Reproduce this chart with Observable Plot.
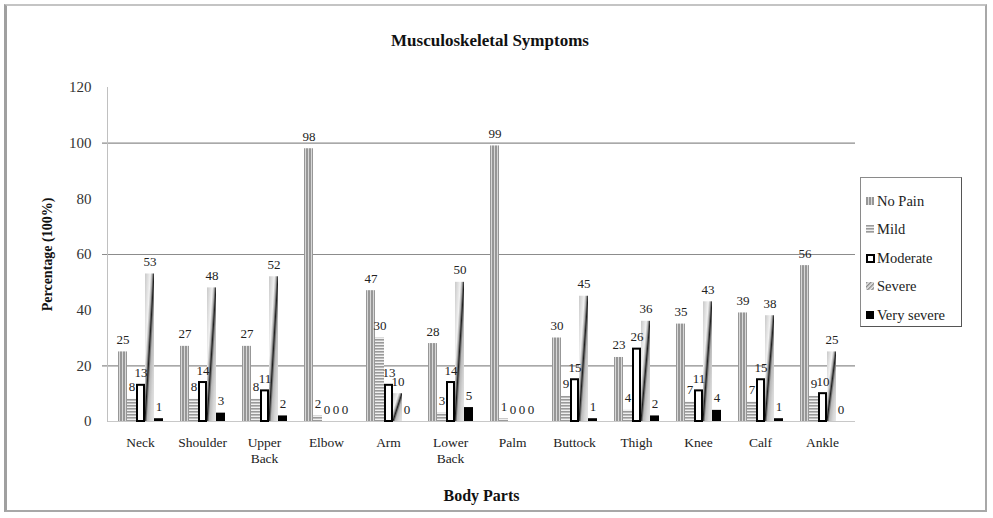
<!DOCTYPE html>
<html>
<head>
<meta charset="utf-8">
<script src="https://cdn.jsdelivr.net/npm/d3@7"></script>
<script src="https://cdn.jsdelivr.net/npm/@observablehq/plot@0.6"></script>
<style>
  body { margin: 0; background: white; font-family: "Liberation Serif", "DejaVu Serif", serif; }
  #wrap { position: relative; width: 993px; height: 518px; overflow: hidden; }
  .layer { position: absolute; left: 0; top: 0; }
  .layer svg, .layer svg text { font-family: "Liberation Serif", serif !important; }
  #border { position: absolute; left: 4px; top: 4px; width: 978px; height: 504px;
            border-top: 2px solid #c4c4c4; border-left: 3px solid #a0a0a0; border-right: 2px solid #a8a8a8; border-bottom: 2px solid #a8a8a8; pointer-events: none; }
  #title { position: absolute; left: 0; width: 980px; top: 31px; text-align: center;
           font: bold 17px "Liberation Serif", serif; color: #111; }
  #legend { position: absolute; left: 860px; top: 177px; width: 102px; height: 150px;
            border: 1px solid #8a8a8a; border-right-color: #555; border-bottom-color: #555; box-sizing: border-box; }
  .li { position: absolute; left: 5px; height: 16px; display: flex; align-items: center;
        font: 14.5px "Liberation Serif", serif; color: #222; white-space: nowrap; }
  .li svg { margin-right: 2px; }
</style>
</head>
<body>
<svg width="0" height="0" style="position:absolute">
  <defs>
    <pattern id="pNoPain" patternUnits="userSpaceOnUse" width="3" height="4">
      <rect x="0" y="0" width="3" height="4" fill="#d8d8d8"/>
      <rect x="0" y="0" width="2" height="4" fill="#979797"/>
    </pattern>
    <pattern id="pMild" patternUnits="userSpaceOnUse" width="4" height="3">
      <rect x="0" y="0" width="4" height="3" fill="#f0f0f0"/>
      <rect x="0" y="0" width="4" height="1.6" fill="#9a9a9a"/>
    </pattern>
    <linearGradient id="gSevere" x1="0" y1="0" x2="1" y2="1">
      <stop offset="0" stop-color="#c8c8c8"/>
      <stop offset="0.3" stop-color="#f2f2f2"/>
      <stop offset="0.4" stop-color="#b0b0b0"/>
      <stop offset="0.47" stop-color="#4a4a4a"/>
      <stop offset="0.5" stop-color="#1e1e1e"/>
      <stop offset="0.54" stop-color="#5a5a5a"/>
      <stop offset="0.62" stop-color="#b8b8b8"/>
      <stop offset="0.8" stop-color="#d6d6d6"/>
      <stop offset="1" stop-color="#e8e8e8"/>
    </linearGradient>
    <pattern id="pSevereLegend" patternUnits="userSpaceOnUse" width="3" height="3" patternTransform="rotate(45)">
      <rect x="0" y="0" width="3" height="3" fill="#e8e8e8"/>
      <rect x="0" y="0" width="1.4" height="3" fill="#8a8a8a"/>
    </pattern>
  </defs>
</svg>
<div id="wrap">
  <div id="back" class="layer"></div>
  <div id="front" class="layer"></div>
  <div id="title">Musculoskeletal Symptoms</div>
  <div id="legend"></div>
  <div id="border"></div>
</div>
<script>
// ---- data ----
const parts = ["Neck", "Shoulder", "Upper Back", "Elbow", "Arm", "Lower Back", "Palm", "Buttock", "Thigh", "Knee", "Calf", "Ankle"];
const severities = ["No Pain", "Mild", "Moderate", "Severe", "Very severe"];
const noPain     = [25, 27, 27, 98, 47, 28, 99, 30, 23, 35, 39, 56];
const mild       = [8, 8, 8, 2, 30, 3, 1, 9, 4, 7, 7, 9];
const moderate   = [13, 14, 11, 0, 13, 14, 0, 15, 26, 11, 15, 10];
const severe     = [53, 48, 52, 0, 10, 50, 0, 45, 36, 43, 38, 25];
const verySevere = [1, 3, 2, 0, 0, 5, 0, 1, 2, 4, 1, 0];
const yTicks = [0, 20, 40, 60, 80, 100, 120];
const gridTicks = [20, 60, 100];

const seriesValues = [noPain, mild, moderate, severe, verySevere];
const rows = [];
severities.forEach((s, si) => parts.forEach((p, pi) => rows.push({part: p, severity: s, value: seriesValues[si][pi]})));

const FONT = "'Liberation Serif', serif";
const common = {
  width: 993, height: 518,
  marginLeft: 107, marginRight: 138, marginTop: 87, marginBottom: 97,
  style: {background: "transparent", overflow: "visible"},
  y: {domain: [0, 120]}
};

// background layer: grid, axis lines, y axis
const back = Plot.plot({
  ...common,
  marks: [
    Plot.ruleY(gridTicks, {stroke: "#8c8c8c", strokeWidth: 1.2, insetLeft: -5}),
    Plot.ruleY([0], {stroke: "#c8c8c8"}),
    Plot.frame({anchor: "left", stroke: "#c0c0c0"}),
    Plot.axisY({ticks: yTicks, tickSize: 0, tickPadding: 16, fontSize: 15, color: "#333",
      label: "Percentage (100%)", labelAnchor: "center", labelOffset: 65, labelArrow: "none"})
  ]
});
document.getElementById("back").appendChild(back);

// foreground layer: grouped bars via facets
const styles = {
  "No Pain":     {fill: "url(#pNoPain)"},
  "Mild":        {fill: "url(#pMild)"},
  "Moderate":    {fill: "white", stroke: "black", strokeWidth: 2, insetLeft: 1, insetRight: 1},
  "Severe":      {fill: "url(#gSevere)"},
  "Very severe": {fill: "black"}
};
const barMarks = severities.map(s =>
  Plot.barY(rows.filter(d => d.severity === s && (s !== "Moderate" || d.value > 0)), {
    fx: "part", x: "severity", y: "value", ...styles[s]
  })
);
const front = Plot.plot({
  ...common,
  fx: {domain: parts, paddingInner: 0.22, paddingOuter: 0.11},
  x: {domain: severities, padding: 0, axis: null},
  y: {domain: [0, 120], axis: null},
  marks: [
    ...barMarks,
    Plot.text(rows, {fx: "part", x: "severity", y: "value", text: d => String(d.value),
      lineAnchor: "bottom", dy: -8, fontSize: 13, fill: "#222"}),
    Plot.axisFx({anchor: "bottom", tickSize: 0, tickPadding: 14, fontSize: 13.5, color: "#222",
      lineHeight: 1.2, tickFormat: d => d.replace(" ", "\n"),
      label: "Body Parts", labelAnchor: "center", labelOffset: 79})
  ]
});
document.getElementById("front").appendChild(front);

// serif everywhere, bold axis titles
d3.selectAll(".layer svg").attr("font-family", FONT);
d3.selectAll(".layer svg text").attr("font-family", FONT);
d3.selectAll("[aria-label='y-axis label'], [aria-label='fx-axis label']")
  .attr("font-weight", "bold").attr("font-size", 14).attr("fill", "#111");
d3.selectAll("[aria-label='fx-axis label']").attr("font-size", 16);

// legend
const legendFill = {
  "No Pain": {fill: "url(#pNoPain)", stroke: "none"},
  "Mild": {fill: "url(#pMild)", stroke: "none"},
  "Moderate": {fill: "white", stroke: "black"},
  "Severe": {fill: "url(#pSevereLegend)", stroke: "none"},
  "Very severe": {fill: "black", stroke: "none"}
};
const legend = d3.select("#legend");
severities.forEach((s, i) => {
  const item = legend.append("div").attr("class", "li").style("top", (15 + i * 28.5) + "px");
  const sw = item.append("svg").attr("width", 9).attr("height", 9);
  const m = s === "Moderate";
  sw.append("rect").attr("x", m ? 1 : 0).attr("y", m ? 1 : 0)
    .attr("width", m ? 7 : 8).attr("height", m ? 7 : 8)
    .attr("fill", legendFill[s].fill).attr("stroke", legendFill[s].stroke).attr("stroke-width", 2);
  item.append("span").text(s);
});
</script>
</body>
</html>
